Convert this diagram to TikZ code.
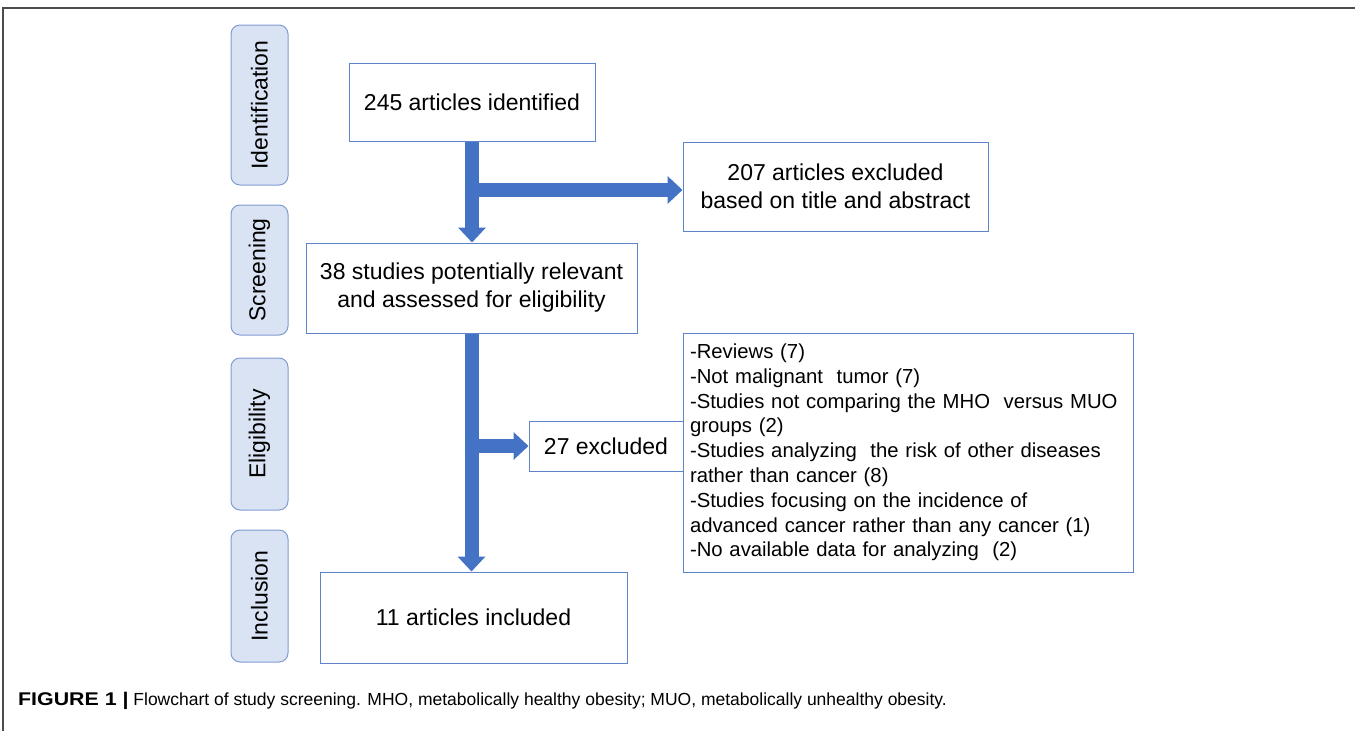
\documentclass[tikz,border=0pt]{standalone}
\usepackage{fontspec}
\setmainfont{Liberation Sans}
\usetikzlibrary{arrows.meta,calc}
\definecolor{flowblue}{HTML}{4472C4}
\definecolor{boxline}{HTML}{5F84C9}
\definecolor{stagefill}{HTML}{DAE3F3}
\definecolor{stageline}{HTML}{7F9CD2}
\newcommand{\stagelabel}[4]{% name, top, bottom, text
  \node[stagebox, minimum width={#3-#2}] (#1) at (259.5,{(#2+#3)/2}) {#4};
}

\begin{document}
\begin{tikzpicture}[x=1pt,y=-1pt,
    box/.style={draw=boxline, line width=1pt, fill=white, align=center,
      font=\fontsize{23}{28}\selectfont},
    stagebox/.style={draw=stageline, line width=1pt, fill=stagefill,
      rounded corners=9pt, rotate=90, minimum height=57pt, inner sep=0pt,
      font=\fontsize{23}{28}\selectfont},
    flow/.style={draw=flowblue, line width=14pt,
      -{Triangle[width=27pt,length=15pt]}}]
  \useasboundingbox (0,0) rectangle (1355,731);
  \draw[gray!60!black, line width=1.5pt] (3,731) -- (3,8) -- (1355,8);

  % stages on the left
  \stagelabel{sid}{25}{185}{Identification}
  \stagelabel{sscr}{205}{335}{Screening}
  \stagelabel{selig}{358}{510}{Eligibility}
  \stagelabel{sinc}{530}{662}{Inclusion}

  % flow boxes
  \node[box, minimum width=246, minimum height=78] (id) at (472,102)
    {245 articles identified};
  \node[box, minimum width=305, minimum height=89] (ex1) at (835.5,186.5)
    {207 articles excluded\\based on title and abstract};
  \node[box, minimum width=331, minimum height=90] (scr) at (471.5,288)
    {38 studies potentially relevant\\and assessed for eligibility};
  \node[box, minimum width=154, minimum height=50] (exc) at (606,446)
    {27 excluded};
  \node[box, text width=436, inner xsep=7, minimum height=239, align=left,
    font=\fontsize{20.3}{24.8}\selectfont] (lst) at (908,452.5)
    {-Reviews (7)\\
     -Not malignant\ \ tumor (7)\\
     -Studies not comparing the MHO\ \ versus MUO\\
     groups (2)\\
     -Studies analyzing\ \ the risk of other diseases\\
     rather than cancer (8)\\
     -Studies focusing on the incidence of\\
     advanced cancer rather than any cancer (1)\\
     -No available data for analyzing\ \ (2)};
  \node[box, minimum width=307, minimum height=91] (inc) at (473.5,617.5)
    {11 articles included};

  % arrows
  \coordinate (j1) at ($(id.south)!0.48!(scr.north)$);
  \draw[flow] (id.south) -- (id.south |- scr.north);
  \draw[flow] (j1) -- (j1 -| ex1.west);
  \draw[flow] (scr.south) -- (scr.south |- inc.north);
  \draw[flow] (scr.south |- exc.west) -- (exc.west);

  % caption
  \node[anchor=base west, inner sep=0, font=\fontsize{17.5}{20}\selectfont]
    (cap) at (18,705)
    {\scalebox{1.22}[1.05]{\textbf{FIGURE 1 |}} Flowchart of study screening.
     MHO, metabolically healthy obesity; MUO, metabolically unhealthy
     obesity.};
\end{tikzpicture}
\end{document}
